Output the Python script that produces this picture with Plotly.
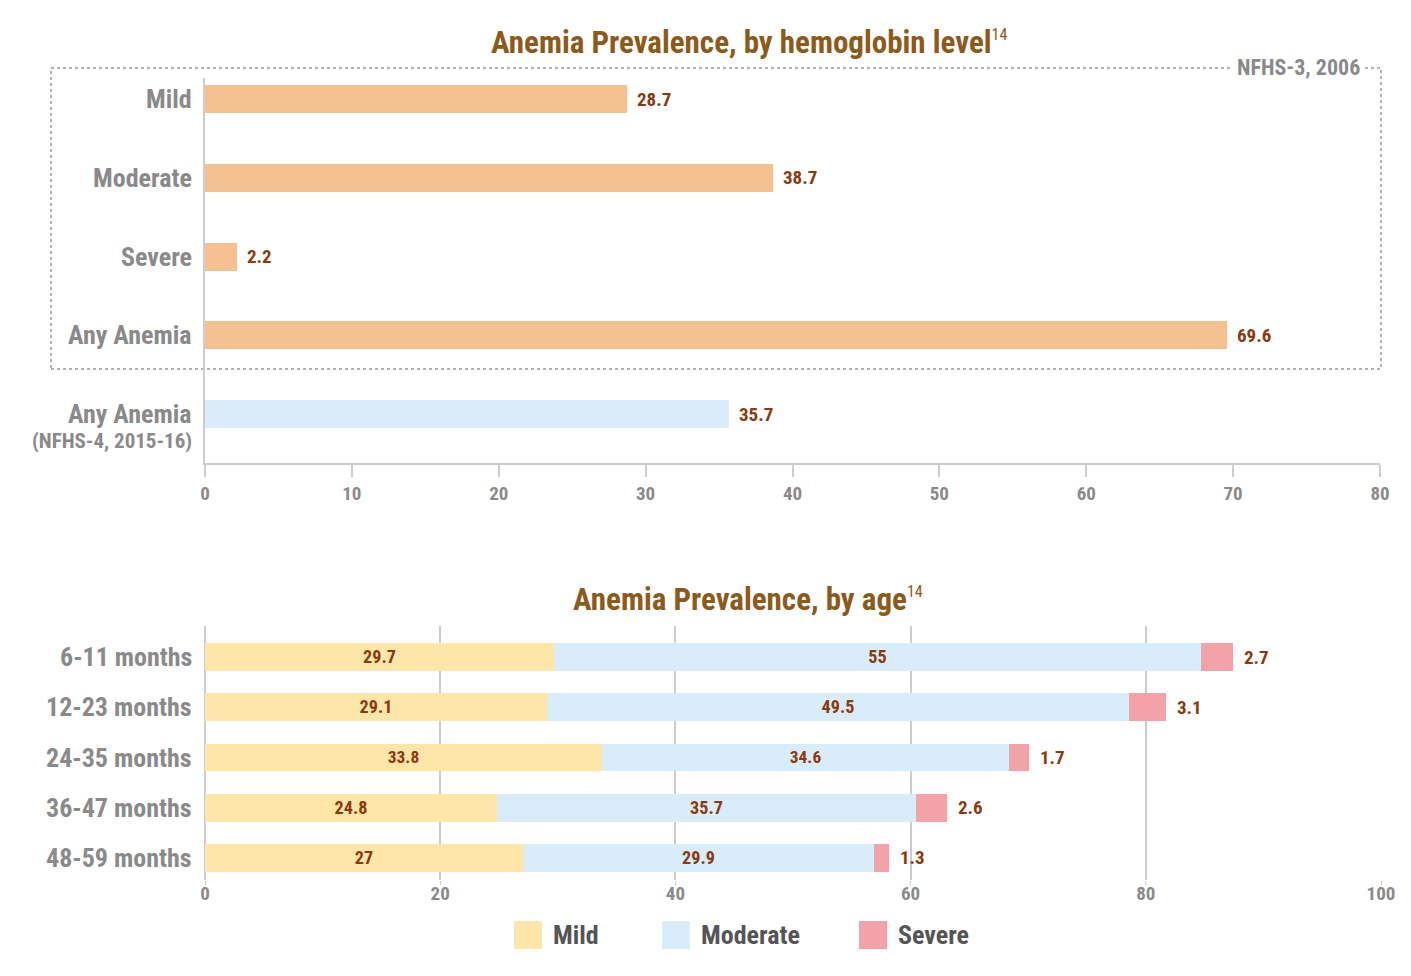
import plotly.graph_objects as go

# ---------------- data ----------------
top_labels = ["Mild", "Moderate", "Severe", "Any Anemia", "Any Anemia (NFHS-4, 2015-16)"]
top_values = [28.7, 38.7, 2.2, 69.6, 35.7]
top_colors = ["#F6C190", "#F6C190", "#F6C190", "#F6C190", "#D8ECFA"]
top_ticks = [0, 10, 20, 30, 40, 50, 60, 70, 80]

ages = ["6-11 months", "12-23 months", "24-35 months", "36-47 months", "48-59 months"]
mild = [29.7, 29.1, 33.8, 24.8, 27]
moderate = [55, 49.5, 34.6, 35.7, 29.9]
severe = [2.7, 3.1, 1.7, 2.6, 1.3]
bottom_ticks = [0, 20, 40, 60, 80, 100]

series_names = ["Mild", "Moderate", "Severe"]
series_colors = ["#FDE6A8", "#D8ECFA", "#F3A3A8"]

# ---------------- geometry helpers (page pixels -> paper fractions) ----------------
W, H = 1403, 968
OFF = 8
def px(x):
    return (x - OFF) / W
def py(y):
    return 1 - (y - OFF) / H

FONT = "Roboto Condensed, Liberation Sans Narrow, DejaVu Sans Condensed, Roboto, sans-serif"
GRAY = "#8a8a8a"
BROWN = "#8B3A0E"
TITLE = "#8C5A1A"
LINE = "#cccccc"

fig = go.Figure()

fig.add_trace(go.Bar(
    y=top_labels, x=top_values, orientation="h",
    marker=dict(color=top_colors, line=dict(width=0)),
    width=0.356, xaxis="x", yaxis="y", showlegend=False, hoverinfo="skip",
))

stacks = [mild, moderate, severe]
for name, vals, col in zip(series_names, stacks, series_colors):
    inside = name != "Severe"
    fig.add_trace(go.Bar(
        y=ages, x=vals, orientation="h", name=name,
        marker=dict(color=col, line=dict(width=0)),
        width=0.557, xaxis="x2", yaxis="y2", showlegend=False, hoverinfo="skip",
        text=[f"{v:g}" for v in vals] if inside else None,
        textposition="inside" if inside else "none",
        insidetextanchor="middle",
        textangle=0,
        textfont=dict(family=FONT, size=19, color=BROWN, weight="bold"),
    ))

VAL_FONT = dict(family=FONT, size=19, color=BROWN, weight="bold")
ann = []
# top value labels
for lab, v in zip(top_labels, top_values):
    ann.append(dict(x=v, y=lab, xref="x", yref="y", text=f"{v:g}", showarrow=False,
                    xanchor="left", xshift=8, font=VAL_FONT))
# severe labels
for a, m1, m2, s in zip(ages, mild, moderate, severe):
    ann.append(dict(x=m1 + m2 + s, y=a, xref="x2", yref="y2", text=f"{s:g}", showarrow=False,
                    xanchor="left", xshift=9, font=VAL_FONT))
# top category labels
for lab in top_labels:
    main = lab.split(" (")[0]
    ann.append(dict(x=px(194), y=lab, xref="paper", yref="y", text=main, showarrow=False,
                    xanchor="right", yshift=0,
                    font=dict(family=FONT, size=26, color=GRAY, weight="bold")))
ann.append(dict(x=px(194), y=top_labels[-1], xref="paper", yref="y",
                text="(" + top_labels[-1].split(" (")[1], showarrow=False,
                xanchor="right", yshift=-27,
                font=dict(family=FONT, size=21, color=GRAY, weight="bold")))
# bottom category labels
for a in ages:
    ann.append(dict(x=px(194), y=a, xref="paper", yref="y2", text=a, showarrow=False,
                    xanchor="right",
                    font=dict(family=FONT, size=26, color=GRAY, weight="bold")))
# titles
SUP = "<sup><span style='font-size:16px;font-weight:normal'>14</span></sup>"
ann.append(dict(x=px(749), y=py(42), xref="paper", yref="paper",
                text="Anemia Prevalence, by hemoglobin level" + SUP, showarrow=False,
                xanchor="center", yanchor="middle",
                font=dict(family=FONT, size=31, color=TITLE, weight="bold")))
ann.append(dict(x=px(748), y=py(599), xref="paper", yref="paper",
                text="Anemia Prevalence, by age" + SUP, showarrow=False,
                xanchor="center", yanchor="middle",
                font=dict(family=FONT, size=31, color=TITLE, weight="bold")))
# NFHS-3 label on dotted frame
ann.append(dict(x=px(1365), y=py(67), xref="paper", yref="paper", text="NFHS-3, 2006",
                showarrow=False, xanchor="right", yanchor="middle", bgcolor="white", borderpad=4,
                font=dict(family=FONT, size=22, color=GRAY, weight="bold")))

shapes = [
    dict(type="rect", xref="paper", yref="paper", x0=px(51), x1=px(1381), y0=py(369), y1=py(68),
         line=dict(color="#999999", width=1.5, dash="dot"), fillcolor="rgba(0,0,0,0)", layer="below"),
]

# manual legend
leg_x = [514, 662, 859]
for name, col, x0 in zip(series_names, series_colors, leg_x):
    shapes.append(dict(type="rect", xref="paper", yref="paper", x0=px(x0), x1=px(x0 + 28),
                       y0=py(949), y1=py(921), fillcolor=col, line=dict(width=0)))
    ann.append(dict(x=px(x0 + 37), y=py(935), xref="paper", yref="paper", text=name,
                    showarrow=False, xanchor="left", yanchor="middle",
                    font=dict(family=FONT, size=26, color="#555555", weight="bold")))

tickfont = dict(family=FONT, size=19, color=GRAY, weight="bold")

fig.update_layout(
    width=W, height=H,
    margin=dict(l=0, r=0, t=0, b=0, autoexpand=False),
    paper_bgcolor="white", plot_bgcolor="rgba(0,0,0,0)",
    barmode="stack", bargap=0,
    font=dict(family=FONT),
    xaxis=dict(domain=[px(205), px(1380)], range=[0, 80], tickvals=top_ticks,
               showgrid=False, zeroline=False, showline=True, linecolor=LINE, linewidth=1.5,
               ticks="outside", ticklen=12, tickcolor=LINE, tickwidth=1.5, automargin=False,
               tickfont=tickfont, anchor="y", fixedrange=True),
    yaxis=dict(domain=[py(463), py(78)], range=[4.622, -0.267], type="category",
               showticklabels=False, showgrid=False, zeroline=False, automargin=False,
               showline=True, linecolor=LINE, linewidth=1.5, anchor="x", fixedrange=True),
    xaxis2=dict(domain=[px(205), px(1381)], range=[0, 100], tickvals=bottom_ticks,
                showgrid=True, gridcolor=LINE, gridwidth=1.5, zeroline=True, zerolinecolor=LINE,
                zerolinewidth=1.5, showline=False, ticks="outside", ticklen=4, tickcolor=LINE,
                ticklabelstandoff=-8,
                automargin=False, tickfont=tickfont, anchor="y2", fixedrange=True),
    yaxis2=dict(domain=[py(880), py(626)], range=[4.438, -0.617], type="category",
                showticklabels=False, showgrid=False, zeroline=False, showline=False,
                automargin=False, anchor="x2", fixedrange=True),
    annotations=ann,
    shapes=shapes,
    showlegend=False,
)

fig.write_html("out.html", config={"displayModeBar": False})
